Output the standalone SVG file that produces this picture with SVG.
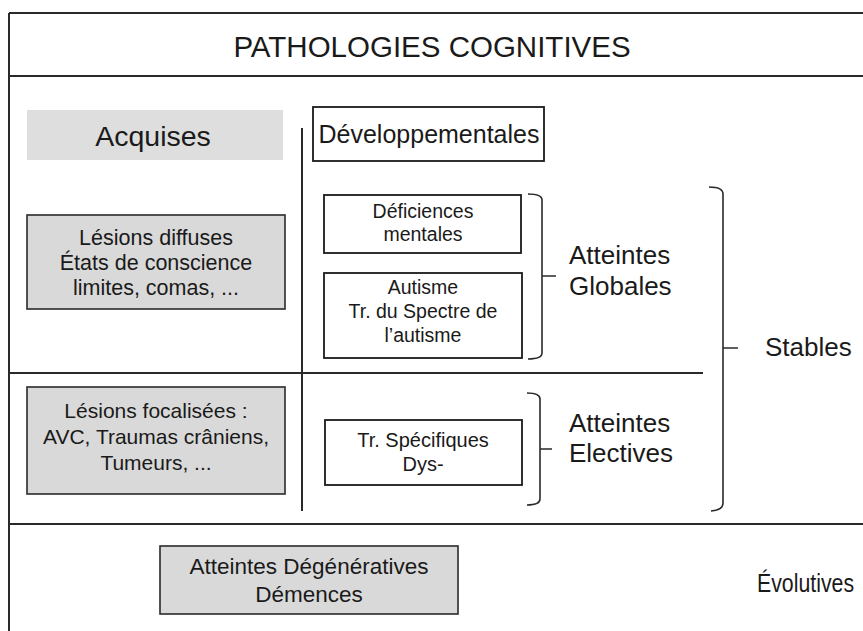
<svg xmlns="http://www.w3.org/2000/svg" width="863" height="631" viewBox="0 0 863 631">
<style>
text{font-family:"Liberation Sans",Arial,sans-serif;fill:#1a1a1a;text-anchor:middle}
.lbl{text-anchor:start}
.gray{fill:#d9d9d9;stroke:#2a2a2a;stroke-width:1.6}
.plain{fill:#ffffff;stroke:#1a1a1a;stroke-width:1.8}
.rule{stroke:#2a2a2a;stroke-width:2;fill:none}
.br{stroke:#2a2a2a;stroke-width:1.6;fill:none}
</style>
<rect x="0" y="0" width="863" height="631" fill="#ffffff"/>
<g id="frame">
<path class="rule" d="M9 13 H863 M9 13 V631"/>
</g>
<g id="title">
<text x="432" y="57" font-size="29.5">PATHOLOGIES COGNITIVES</text>
</g>
<g id="connectors">
<line class="rule" x1="9" y1="76" x2="863" y2="76"/>
<line class="rule" x1="302" y1="128" x2="302" y2="511"/>
<line class="rule" x1="9" y1="373" x2="703" y2="373"/>
<line class="rule" x1="9" y1="524" x2="863" y2="524"/>
<path class="br" d="M528 194 Q542 194 542 200 V353 Q542 359 528 359 M542 276 H556"/>
<path class="br" d="M527 393 Q540 393 540 399 V499 Q540 505 527 505 M540 449 H552"/>
<path class="br" d="M709 187 Q723 187 723 194 V503 Q723 510 711 511 M723 348 H738"/>
</g>
<g id="acquises">
<rect x="27" y="110" width="256" height="50" fill="#dedede"/>
<text x="153" y="146" font-size="28.5">Acquises</text>
</g>
<g id="developpementales">
<rect class="plain" x="313" y="107" width="231" height="54"/>
<text x="429" y="143" font-size="25">Développementales</text>
</g>
<g id="lesions-diffuses">
<rect class="gray" x="27" y="215" width="258" height="94"/>
<text x="156" y="245" font-size="21.5">Lésions diffuses</text>
<text x="156" y="270" font-size="21.5">États de conscience</text>
<text x="156" y="295" font-size="21.5">limites, comas, ...</text>
</g>
<g id="deficiences">
<rect class="plain" x="324" y="195" width="197" height="58"/>
<text x="423" y="218" font-size="19.5">Déficiences</text>
<text x="423" y="241" font-size="19.5">mentales</text>
</g>
<g id="autisme">
<rect class="plain" x="324" y="273" width="198" height="85"/>
<text x="423" y="294" font-size="19.5">Autisme</text>
<text x="423" y="318" font-size="19.5">Tr. du Spectre de</text>
<text x="423" y="342" font-size="19.5">l’autisme</text>
</g>
<g id="atteintes-globales">
<text class="lbl" x="569" y="264" font-size="26">Atteintes</text>
<text class="lbl" x="569" y="295" font-size="26">Globales</text>
</g>
<g id="stables">
<text class="lbl" x="765" y="356" font-size="26">Stables</text>
</g>
<g id="lesions-focalisees">
<rect class="gray" x="27" y="387" width="258" height="107"/>
<text x="156" y="418" font-size="21">Lésions focalisées :</text>
<text x="156" y="444" font-size="21">AVC, Traumas crâniens,</text>
<text x="156" y="470" font-size="21">Tumeurs, ...</text>
</g>
<g id="tr-specifiques">
<rect class="plain" x="325" y="420" width="197" height="65"/>
<text x="423" y="447" font-size="20">Tr. Spécifiques</text>
<text x="423" y="471" font-size="20">Dys-</text>
</g>
<g id="atteintes-electives">
<text class="lbl" x="569" y="432" font-size="26">Atteintes</text>
<text class="lbl" x="569" y="462" font-size="26">Electives</text>
</g>
<g id="degeneratives">
<rect class="gray" x="160" y="546" width="298" height="68" stroke-width="2"/>
<text x="309" y="574" font-size="22.5">Atteintes Dégénératives</text>
<text x="309" y="602" font-size="22.5">Démences</text>
</g>
<g id="evolutives">
<text class="lbl" transform="translate(757,592) scale(0.82,1)" x="0" y="0" font-size="26">Évolutives</text>
</g>
</svg>
